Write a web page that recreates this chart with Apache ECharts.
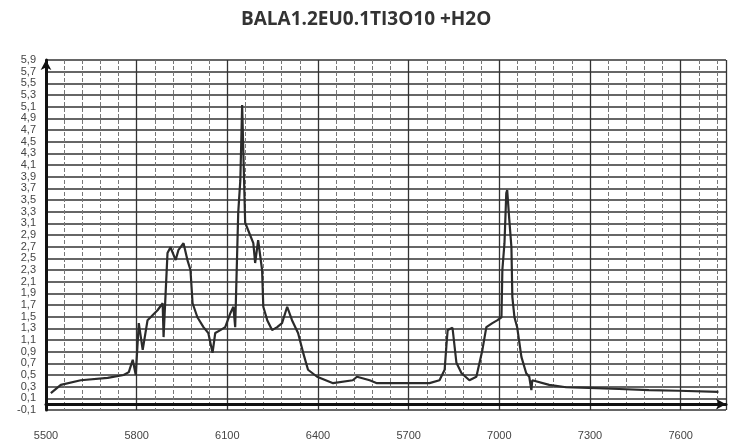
<!DOCTYPE html>
<html>
<head>
<meta charset="utf-8">
<script src="https://cdn.jsdelivr.net/npm/echarts@6/dist/echarts.min.js"></script>
<style>
  html, body { margin: 0; padding: 0; background: #fff; }
  #chart { width: 732px; height: 446px; }
</style>
</head>
<body>
<div id="chart"></div>
<script>
// wavelength-ish x values
const xValues = [
  5516, 5549, 5615, 5704, 5757, 5774, 5787, 5797, 5807, 5820,
  5836, 5846, 5869, 5886, 5889, 5902, 5912, 5929, 5938, 5955,
  5968, 5978, 5985, 6001, 6021, 6037, 6051, 6060, 6077, 6093,
  6110, 6120, 6126, 6133, 6136, 6143, 6149, 6159, 6186, 6192,
  6202, 6215, 6219, 6232, 6248, 6265, 6281, 6298, 6314, 6334,
  6351, 6367, 6397, 6450, 6515, 6529, 6571, 6595, 6680, 6769,
  6802, 6819, 6825, 6829, 6845, 6858, 6875, 6901, 6924, 6944,
  6957, 6977, 6994, 7007, 7010, 7017, 7023, 7026, 7033, 7040,
  7043, 7050, 7059, 7073, 7089, 7099, 7106, 7109, 7165, 7221,
  7297, 7396, 7495, 7593, 7725
];

// intensity at each x
const yValues = [
  0.19, 0.33, 0.41, 0.45, 0.50, 0.55, 0.76, 0.50, 1.39, 0.93,
  1.44, 1.49, 1.61, 1.73, 1.15, 2.59, 2.69, 2.47, 2.64, 2.76,
  2.47, 2.30, 1.73, 1.49, 1.32, 1.22, 0.88, 1.22, 1.27, 1.32,
  1.56, 1.67, 1.32, 2.69, 3.28, 3.84, 5.13, 3.11, 2.76, 2.42,
  2.81, 2.30, 1.67, 1.44, 1.27, 1.32, 1.39, 1.67, 1.44, 1.22,
  0.88, 0.59, 0.47, 0.36, 0.41, 0.47, 0.41, 0.36, 0.36, 0.36,
  0.41, 0.59, 1.01, 1.27, 1.31, 0.71, 0.53, 0.41, 0.47, 0.93,
  1.32, 1.39, 1.44, 1.49, 2.30, 2.76, 3.62, 3.67, 3.16, 2.69,
  1.84, 1.49, 1.32, 0.81, 0.53, 0.47, 0.24, 0.41, 0.33, 0.29,
  0.28, 0.26, 0.24, 0.23, 0.21
];

// x tick values and the text printed under them (as on the scan)
const xTicks = [5500, 5800, 6100, 6400, 6700, 7000, 7300, 7600];
const xTickLabels = ['5500', '5800', '6100', '6400', '5700', '7000', '7300', '7600'];

const points = xValues.map((x, i) => [x, yValues[i]]);

const chart = echarts.init(document.getElementById('chart'));

chart.setOption({
  backgroundColor: '#fff',
  animation: false,
  title: {
    text: 'BALA1.2EU0.1TI3O10 +H2O',
    left: 236,
    top: 5,
    textStyle: {
      fontFamily: '"Open Sans", Lato, sans-serif',
      fontSize: 19,
      fontWeight: 'bold',
      color: '#333'
    }
  },
  grid: { left: 46, right: 6, top: 60, bottom: 36 },
  xAxis: {
    type: 'value',
    min: 5500,
    max: 7750,
    interval: 300,
    axisLine: {
      lineStyle: { color: '#111', width: 3 },
      symbol: ['none', 'arrow'],
      symbolSize: [8, 10]
    },
    axisTick: { show: false },
    axisLabel: {
      margin: 20,
      fontSize: 11,
      color: '#444',
      fontFamily: '"Liberation Sans Narrow", "Liberation Sans", sans-serif',
      formatter: v => {
        const i = xTicks.indexOf(Math.round(v));
        return i >= 0 ? xTickLabels[i] : '';
      }
    },
    splitLine: { show: true, lineStyle: { color: '#333', width: 1.3 } },
    minorTick: { show: false, splitNumber: 5 },
    minorSplitLine: { show: true, lineStyle: { color: '#777', width: 1, type: 'dashed' } }
  },
  yAxis: {
    type: 'value',
    min: -0.1,
    max: 5.9,
    interval: 0.2,
    axisLine: {
      show: true,
      lineStyle: { color: '#111', width: 3 },
      symbol: ['none', 'arrow'],
      symbolSize: [8, 10]
    },
    axisTick: { show: false },
    axisLabel: {
      margin: 10,
      fontSize: 11,
      color: '#444',
      fontFamily: '"Liberation Sans Narrow", "Liberation Sans", sans-serif',
      formatter: v => v.toFixed(1).replace('.', ',')
    },
    splitLine: { show: true, lineStyle: { color: '#333', width: 1.6 } }
  },
  series: [{
    type: 'line',
    data: points,
    showSymbol: false,
    smooth: false,
    lineStyle: { color: '#2b2b2b', width: 2.2 }
  }]
});
</script>
</body>
</html>
